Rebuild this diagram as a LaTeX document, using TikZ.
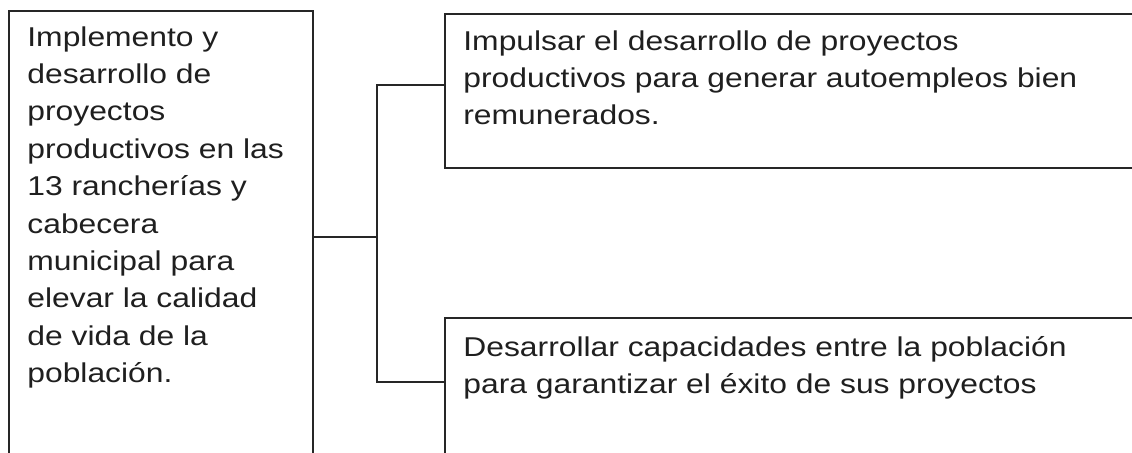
\documentclass[tikz,border=0pt]{standalone}
\usepackage{fontspec}
\setmainfont{Liberation Sans}[FakeStretch=1.17]
\newlength\pxl
\setlength\pxl{0.5pt}
\tikzset{
  caja/.style={draw=black!85, line width=0.8pt, inner sep=0pt, anchor=north west},
  texto/.style={inner sep=0pt, anchor=north west, align=left, text=black!88,
    font=\fontsize{13.6pt}{18.7pt}\selectfont},
  linea/.style={draw=black!85, line width=0.8pt}
}
\begin{document}
\begin{tikzpicture}[x=0.5pt,y=-0.5pt]
\useasboundingbox (0,0) rectangle (1132,453);
\clip (0,0) rectangle (1132,453);

% cajas
\node[caja, minimum width=304\pxl, minimum height=490\pxl] (objetivo) at (8,10) {};
\node[caja, minimum width=706\pxl, minimum height=154\pxl] (estr1) at (444,13) {};
\node[caja, minimum width=706\pxl, minimum height=183\pxl] (estr2) at (444,317) {};

% textos
\node[texto] (objtxt) at (27,26) {Implemento y\\desarrollo de\\proyectos\\productivos en las\\13 rancherías y\\cabecera\\municipal para\\elevar la calidad\\de vida de la\\población.};
\node[texto] (txt1) at (463,30) {Impulsar el desarrollo de proyectos\\productivos para generar autoempleos bien\\remunerados.};
\node[texto] (txt2) at (463,336) {Desarrollar capacidades entre la población\\para garantizar el éxito de sus proyectos};

% conectores
\coordinate (rama) at (377,237);
\coordinate (n1) at (0,85);
\coordinate (n2) at (0,382);
\draw[linea] (objetivo.east |- rama) -- (rama);
\draw[linea] (estr1.west |- n1) -| (rama) |- (estr2.west |- n2);

\end{tikzpicture}
\end{document}
